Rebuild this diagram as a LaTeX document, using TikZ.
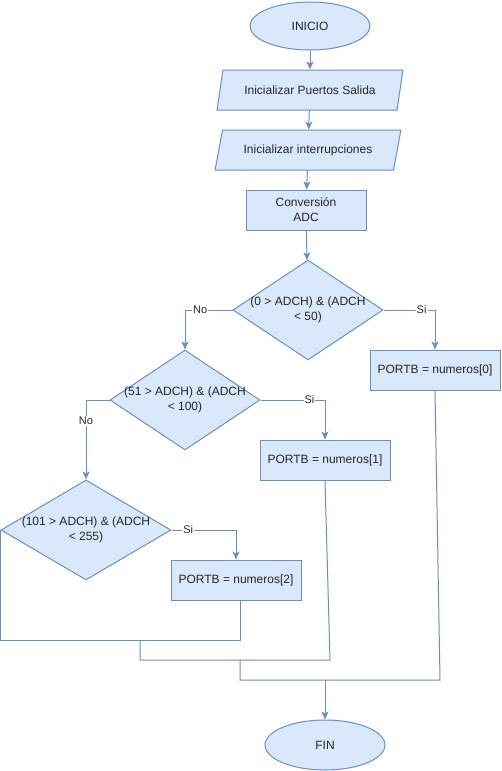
\documentclass[tikz,border=0pt]{standalone}
\usepackage{fontspec}
\setmainfont{Liberation Sans}
\usepackage{tikz}
\usetikzlibrary{shapes.geometric,arrows.meta,calc}
\usepackage{xcolor}
\definecolor{boxfill}{HTML}{DAE8FC}
\definecolor{boxline}{HTML}{6C8EBF}

\begin{document}
\begin{tikzpicture}[x=1pt,y=-1pt,->,>={Stealth[length=8pt,width=7pt,inset=2pt]},line width=1pt,
	every node/.style={font=\fontsize{12}{15}\selectfont,text=black!85},
	base/.style={draw=boxline,fill=boxfill,line width=1pt,inner sep=0pt},
	term/.style={base,ellipse,minimum width=120pt,minimum height=48pt},
	io/.style={base,trapezium,trapezium left angle=63.4,trapezium right angle=116.6,trapezium stretches=true,minimum width=186pt,minimum height=40pt},
	proc/.style={base,rectangle,minimum width=130pt,minimum height=40pt,align=center},
	cond/.style={base,diamond,minimum width=150pt,minimum height=100pt},
	lbl/.style={fill=white,inner sep=1pt,font=\fontsize{11}{13}\selectfont},
	conn/.style={color=boxline}]
		\path[use as bounding box,fill=white] (0,0) rectangle (501,771);

		\node[term] (inicio) at (310,26) {INICIO};
		\node[io] (p1) at (310,90) {Inicializar Puertos Salida};
		\node[io] (p2) at (308,150) {Inicializar interrupciones};
		\node[proc,minimum width=120pt] (adc) at (306,210) {Conversi\'on\\ADC};
		\node[cond,label={[align=center]center:{(0 > ADCH) \& (ADCH\\< 50)}}] (d1) at (308,310) {};
		\node[cond,label={[align=center]center:{(51 > ADCH) \& (ADCH\\< 100)}}] (d2) at (185,400) {};
		\node[cond,minimum width=170pt,label={[align=center]center:{(101 > ADCH) \& (ADCH\\< 255)}}] (d3) at (86,530) {};
		\node[proc] (b0) at (435,370) {PORTB = numeros[0]};
		\node[proc] (b1) at (325,460) {PORTB = numeros[1]};
		\node[proc] (b2) at (236,580) {PORTB = numeros[2]};
		\node[term,minimum height=50pt] (fin) at (325,745) {FIN};

		\coordinate (m2) at (240,640);
		\coordinate (j2) at (140,640);
		\coordinate (m1) at (330,660);
		\coordinate (j1) at (240,660);
		\coordinate (m0) at (440,680);
		\coordinate (j0) at (325,680);

		\path[->,conn] (inicio) edge (p1);
		\path[->,conn] (p1) edge (p2);
		\path[->,conn] (p2) edge (adc);
		\path[->,conn] (adc) edge (d1);
		\draw[->,conn] (d1.west) -| node[lbl,pos=0.34] {No} (d2.north);
		\draw[->,conn] (d1.east) -| node[lbl,pos=0.37] {Si} (b0.north);
		\draw[->,conn] (d2.west) -| node[lbl,pos=0.63] {No} (d3.north);
		\draw[->,conn] (d2.east) -| node[lbl,pos=0.38] {Si} (b1.north);
		\draw[->,conn] (d3.east) -| node[lbl,pos=0.13] {Si} (b2.north);
		\draw[-,conn] (d3.west) |- (m2) -- (m2 |- b2.south);
		\draw[-,conn] (j2) |- (m1) -- (b1.south);
		\draw[-,conn] (j1) |- (m0) -- (b0.south);
		\path[->,conn] (j0) edge (fin);
		\end{tikzpicture}
\end{document}
